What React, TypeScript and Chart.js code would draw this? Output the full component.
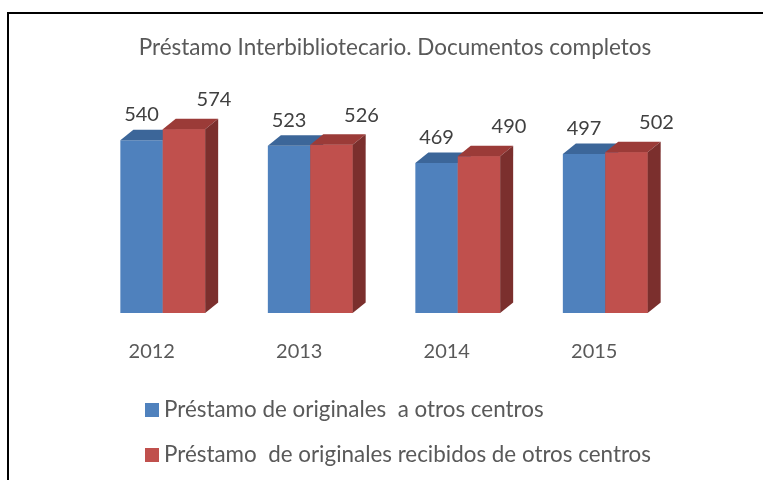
import React, { useEffect, useRef } from 'react';
import { Chart, registerables } from 'chart.js';

Chart.register(...registerables);

const TITLE = 'Préstamo Interbibliotecario. Documentos completos';
const CATEGORIES = ['2012', '2013', '2014', '2015'];
const SERIES_NAMES = [
  'Préstamo de originales  a otros centros',
  'Préstamo  de originales recibidos de otros centros',
];
const SENT = [540, 523, 469, 497];
const RECEIVED = [574, 526, 490, 502];

const FRONT = ['#4F81BD', '#C0504D'];
const TOP = ['#3C6699', '#9B3B38'];
const SIDE = ['#385D8A', '#7B2F2D'];
const DX = 13;
const DY = 10.5;
const FONT = 'Lato, "Open Sans", sans-serif';

const threeD = {
  id: 'threeD',
  afterDatasetsDraw(chart: any) {
    const ctx = chart.ctx;
    const n = chart.data.labels.length;
    const metas = chart.data.datasets.map((_: any, i: number) => chart.getDatasetMeta(i));
    for (let i = 0; i < n; i++) {
      metas.forEach((meta: any, d: number) => {
        const el = meta.data[i];
        if (!el) return;
        const { x, y, base, width } = el.getProps(['x', 'y', 'base', 'width'], true);
        const l = x - width / 2;
        const r = x + width / 2;
        if (d > 0) el.draw(ctx);
        ctx.save();
        // top face
        ctx.fillStyle = TOP[d];
        ctx.beginPath();
        ctx.moveTo(l, y);
        ctx.lineTo(r, y);
        ctx.lineTo(r + DX, y - DY);
        ctx.lineTo(l + DX, y - DY);
        ctx.closePath();
        ctx.fill();
        // side face
        ctx.fillStyle = SIDE[d];
        ctx.beginPath();
        ctx.moveTo(r, y);
        ctx.lineTo(r + DX, y - DY);
        ctx.lineTo(r + DX, base - DY);
        ctx.lineTo(r, base);
        ctx.closePath();
        ctx.fill();
        ctx.restore();
      });
    }
  },
};

const LABEL_OFFSET_X = [0, 30];
const LABEL_GAP = [8, 12];

const decorations = {
  id: 'decorations',
  afterDraw(chart: any) {
    const ctx = chart.ctx;
    ctx.save();
    // frame
    ctx.strokeStyle = '#000000';
    ctx.lineWidth = 2;
    ctx.beginPath();
    ctx.moveTo(8, 480);
    ctx.lineTo(8, 13);
    ctx.lineTo(763, 13);
    ctx.stroke();

    // title
    ctx.fillStyle = '#595959';
    ctx.font = `22.5px ${FONT}`;
    ctx.textAlign = 'center';
    ctx.textBaseline = 'middle';
    ctx.fillText(TITLE, 395, 48);

    // value labels
    ctx.fillStyle = '#404040';
    ctx.font = `20px ${FONT}`;
    ctx.textBaseline = 'bottom';
    chart.data.datasets.forEach((ds: any, d: number) => {
      const meta = chart.getDatasetMeta(d);
      meta.data.forEach((el: any, i: number) => {
        const { x, y } = el.getProps(['x', 'y'], true);
        ctx.fillText(String(ds.data[i]), x + LABEL_OFFSET_X[d], y - DY - LABEL_GAP[d] + 3);
      });
    });

    // category labels
    ctx.fillStyle = '#595959';
    ctx.textBaseline = 'middle';
    const xs = chart.scales.x;
    const base = chart.scales.y.getPixelForValue(0);
    chart.data.labels.forEach((lab: string, i: number) => {
      ctx.fillText(lab, xs.getPixelForValue(i) - 11, base + 39);
    });

    // legend
    ctx.textAlign = 'left';
    ctx.font = `22.4px ${FONT}`;
    chart.data.datasets.forEach((ds: any, d: number) => {
      const cy = 410 + d * 45;
      ctx.fillStyle = ds.backgroundColor;
      ctx.fillRect(145, cy - 7, 14, 14);
      ctx.fillStyle = '#595959';
      ctx.fillText(ds.label, 164, cy);
    });
    ctx.restore();
  },
};

export default function App() {
  const ref = useRef<HTMLCanvasElement | null>(null);
  useEffect(() => {
    if (!ref.current) return;
    const chart = new Chart(ref.current, {
      type: 'bar',
      data: {
        labels: CATEGORIES,
        datasets: [
          {
            label: SERIES_NAMES[0],
            data: SENT,
            backgroundColor: FRONT[0],
            borderWidth: 0,
            categoryPercentage: 0.575,
            barPercentage: 1,
          },
          {
            label: SERIES_NAMES[1],
            data: RECEIVED,
            backgroundColor: FRONT[1],
            borderWidth: 0,
            categoryPercentage: 0.575,
            barPercentage: 1,
          },
        ],
      },
      options: {
        responsive: false,
        animation: false,
        layout: { padding: { left: 89, right: 84, top: 121, bottom: 167 } },
        scales: {
          x: { display: false },
          y: { display: false, min: 0, max: 600 },
        },
        plugins: {
          legend: { display: false },
          tooltip: { enabled: false },
          title: { display: false },
        },
      },
      plugins: [threeD, decorations],
    });
    return () => chart.destroy();
  }, []);
  return (
    <div style={{ position: 'absolute', left: 0, top: 0, width: 763, height: 480, background: '#ffffff' }}>
      <canvas ref={ref} width={763} height={480} />
    </div>
  );
}
